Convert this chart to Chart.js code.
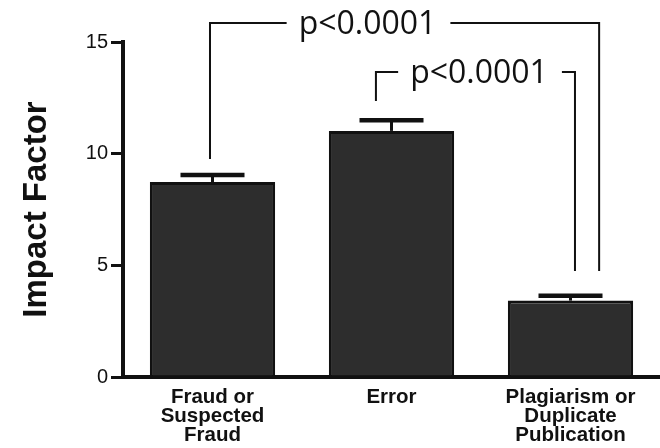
<!DOCTYPE html>
<html><head><meta charset="utf-8">
<script src="https://cdn.jsdelivr.net/npm/chart.js@4"></script>
<style>html,body{margin:0;padding:0;background:#fff;overflow:hidden}#wrap{width:660px;height:448px;position:relative}</style>
</head><body><div id="wrap"><canvas id="c"></canvas></div>
<script>
const categories = [["Fraud or","Suspected","Fraud"], "Error", ["Plagiarism or","Duplicate","Publication"]];
const impactFactor = [8.73, 11.02, 3.42];
const errorUpper = [9.05, 11.5, 3.64];
const yTicks = [0, 5, 10, 15];
const comparisons = [
  {from: 0, to: 2, label: "p<0.0001"},
  {from: 1, to: 2, label: "p<0.0001"}
];
const yTitle = "Impact Factor";

// bracket geometry (drawing only)
const bracketGeom = [
  {dl: -0.014, dr: 0.16, top: 15.85, lb: 9.76, rb: 4.75, tc: 0.866},
  {dl: -0.087, dr: 0.025, top: 13.66, lb: 12.36, rb: 4.75, tc: 1.489}
];

const annot = {
  id: 'annot',
  afterDatasetsDraw(chart) {
    const ctx = chart.ctx, x = chart.scales.x, y = chart.scales.y;
    const x0 = x.getPixelForValue(0);
    const step = x.getPixelForValue(1) - x0;
    const px = v => x0 + v * step;
    const meta = chart.getDatasetMeta(0);
    ctx.save();
    ctx.strokeStyle = '#111';
    ctx.fillStyle = '#111';
    ctx.lineCap = 'butt';
    meta.data.forEach((bar, i) => {
      const cx = bar.x;
      const yt = y.getPixelForValue(errorUpper[i]);
      const yb = y.getPixelForValue(impactFactor[i]);
      ctx.lineWidth = 3;
      ctx.beginPath(); ctx.moveTo(cx, yb); ctx.lineTo(cx, yt); ctx.stroke();
      ctx.lineWidth = 4.5;
      ctx.beginPath(); ctx.moveTo(cx - 32, yt); ctx.lineTo(cx + 32, yt); ctx.stroke();
    });
    ctx.font = '32px "Open Sans"';
    ctx.textAlign = 'center';
    ctx.textBaseline = 'alphabetic';
    ctx.lineWidth = 2;
    comparisons.forEach((c, i) => {
      const g = bracketGeom[i];
      const xl = px(c.from + g.dl), xr = px(c.to + g.dr);
      const yt = y.getPixelForValue(g.top);
      const ylb = y.getPixelForValue(g.lb), yrb = y.getPixelForValue(g.rb);
      const tcx = px(g.tc);
      const w = ctx.measureText(c.label).width;
      ctx.beginPath();
      ctx.moveTo(xl, ylb); ctx.lineTo(xl, yt); ctx.lineTo(tcx - w / 2 - 12, yt);
      ctx.moveTo(tcx + w / 2 + 14, yt); ctx.lineTo(xr, yt); ctx.lineTo(xr, yrb);
      ctx.stroke();
      ctx.fillText(c.label, tcx, yt + 11);
    });
    ctx.restore();
  }
};

new Chart(document.getElementById('c'), {
  type: 'bar',
  data: {
    labels: categories,
    datasets: [{
      data: impactFactor,
      backgroundColor: '#2d2d2d',
      borderColor: '#111',
      borderWidth: 3,
      barPercentage: 0.7,
      categoryPercentage: 1
    }]
  },
  options: {
    responsive: true,
    maintainAspectRatio: false,
    animation: false,
    events: [],
    layout: {padding: {top: 42, right: 0, left: 0, bottom: 0}},
    plugins: {legend: {display: false}, tooltip: {enabled: false}},
    scales: {
      x: {
        grid: {display: false, drawTicks: false},
        border: {display: true, color: '#111', width: 4},
        ticks: {color: '#111', padding: 11, maxRotation: 0, autoSkip: false,
          font: {family: 'Liberation Sans, Arial, sans-serif', size: 20.5, weight: 'bold', lineHeight: 0.92}},
        afterFit(s) { s.height = 71; }
      },
      y: {
        min: 0, max: 15,
        afterBuildTicks(s) { s.ticks = yTicks.map(v => ({value: v})); },
        grid: {drawOnChartArea: false, color: '#111', lineWidth: 3, tickLength: 12},
        border: {display: true, color: '#111', width: 4},
        ticks: {color: '#111', padding: 3,
          font: {family: 'Liberation Sans, Arial, sans-serif', size: 20}},
        title: {display: true, text: yTitle, color: '#111', padding: {top: 17, bottom: 0},
          font: {family: 'Liberation Sans, Arial, sans-serif', size: 33, weight: 'bold', lineHeight: 1.2}},
        afterFit(s) { s.width = 123; }
      }
    }
  },
  plugins: [annot]
});
</script>
</body></html>
